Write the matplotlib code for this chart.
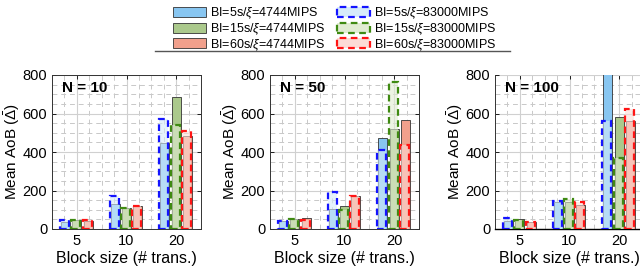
import numpy as np
import matplotlib
matplotlib.use('Agg')
import matplotlib.pyplot as plt
from matplotlib.patches import Patch
from matplotlib.lines import Line2D
from matplotlib.ticker import MultipleLocator

plt.rcParams['font.family'] = ['Liberation Sans', 'DejaVu Sans']
plt.rcParams['mathtext.fontset'] = 'custom'
plt.rcParams['mathtext.rm'] = 'Liberation Sans'
plt.rcParams['mathtext.it'] = 'Liberation Sans:italic'

block_sizes = ['5', '10', '20']
panels = ['N = 10', 'N = 50', 'N = 100']
series_names = ['BI=5s/$\\xi$=4744MIPS', 'BI=15s/$\\xi$=4744MIPS', 'BI=60s/$\\xi$=4744MIPS',
                'BI=5s/$\\xi$=83000MIPS', 'BI=15s/$\\xi$=83000MIPS', 'BI=60s/$\\xi$=83000MIPS']

# slow machine (4744 MIPS), rows = BI 5s/15s/60s, cols = block size 5/10/20
slow = [
    [[35, 130, 446], [45, 109, 684], [42, 121, 484]],   # N = 10
    [[40, 105, 472], [52, 121, 518], [55, 169, 567]],   # N = 50
    [[43, 138, 850], [50, 141, 581], [38, 124, 559]],   # N = 100
]
# fast machine (83000 MIPS)
fast = [
    [[45, 173, 572], [45, 110, 540], [45, 118, 510]],
    [[43, 190, 411], [52, 97, 765], [48, 169, 437]],
    [[55, 145, 560], [47, 155, 369], [38, 141, 624]],
]

solid_col = ['#88c6f1', '#abc98c', '#f1a08c']
light_col = ['#d6ebfa', '#e1ecd3', '#fcdcd6']
edge_col = ['#1414ff', '#3f8a12', '#ff1414']

fig = plt.figure(figsize=(6.4, 2.72), dpi=100)
lefts = [52, 270, 495]
x = np.arange(1, 4)
offs = [-0.23, 0, 0.23]
w = 0.18

for p in range(3):
    ax = fig.add_axes([lefts[p] / 640, 43 / 272, 149 / 640, 154 / 272])
    for s in range(3):
        ax.bar(x + offs[s], slow[p][s], w, color=solid_col[s], edgecolor='#333333',
               linewidth=0.6, zorder=3)
    for s in range(3):
        ax.bar(x + offs[s] - 0.02, fast[p][s], w, facecolor=light_col[s] + '99',
               edgecolor=edge_col[s], linewidth=1.6, linestyle=(0, (3, 2)), zorder=4)
    ax.set_xlim(0.5, 3.5)
    ax.set_ylim(0, 800)
    ax.set_xticks(x)
    ax.set_xticklabels(block_sizes)
    ax.set_yticks([0, 200, 400, 600, 800])
    ax.yaxis.set_minor_locator(MultipleLocator(50))
    ax.xaxis.set_minor_locator(MultipleLocator(0.25))
    ax.grid(True, which='major', color='#d0d0d0', linewidth=0.8, zorder=0)
    ax.grid(True, which='minor', color='#c8c8c8', linestyle=(0, (5, 4)),
            linewidth=0.7, zorder=0)
    ax.set_axisbelow(True)
    ax.tick_params(which='both', direction='in', top=True, right=True, labelsize=10.5,
                   length=3, width=0.6)
    ax.tick_params(which='minor', length=0)
    for sp in ax.spines.values():
        sp.set_color('#333333')
        sp.set_linewidth(0.7)
    if p == 2:
        ax.spines['top'].set_visible(False)
        ax.spines['bottom'].set_color('k')
        ax.spines['bottom'].set_linewidth(1.0)
    ax.set_xlabel('Block size (# trans.)', fontsize=11.5, labelpad=2)
    ax.set_ylabel('Mean AoB ($\\bar{\\Delta}$)', fontsize=11, labelpad=0.5)
    ax.text(0.07, 0.96, panels[p], transform=ax.transAxes, fontsize=11,
            fontweight='bold', va='top', ha='left', zorder=5)

handles = []
for s in range(3):
    handles.append(Patch(facecolor=solid_col[s], edgecolor='#333333', linewidth=0.6))
for s in range(3):
    handles.append(Patch(facecolor=light_col[s], edgecolor=edge_col[s], linewidth=1.6,
                         linestyle=(0, (3, 2))))
fig.legend(handles, series_names, loc='upper center', bbox_to_anchor=(0.523, 1.02),
           ncol=2, frameon=False, fontsize=9, handlelength=2.6, handleheight=0.85,
           labelspacing=0.0, columnspacing=1.0, handletextpad=0.3)
fig.add_artist(Line2D([155 / 640, 510 / 640], [1 - 51 / 272, 1 - 51 / 272],
                      color='#555555', linewidth=1.0, transform=fig.transFigure))

plt.savefig('out.png', dpi=100)
plt.close()
